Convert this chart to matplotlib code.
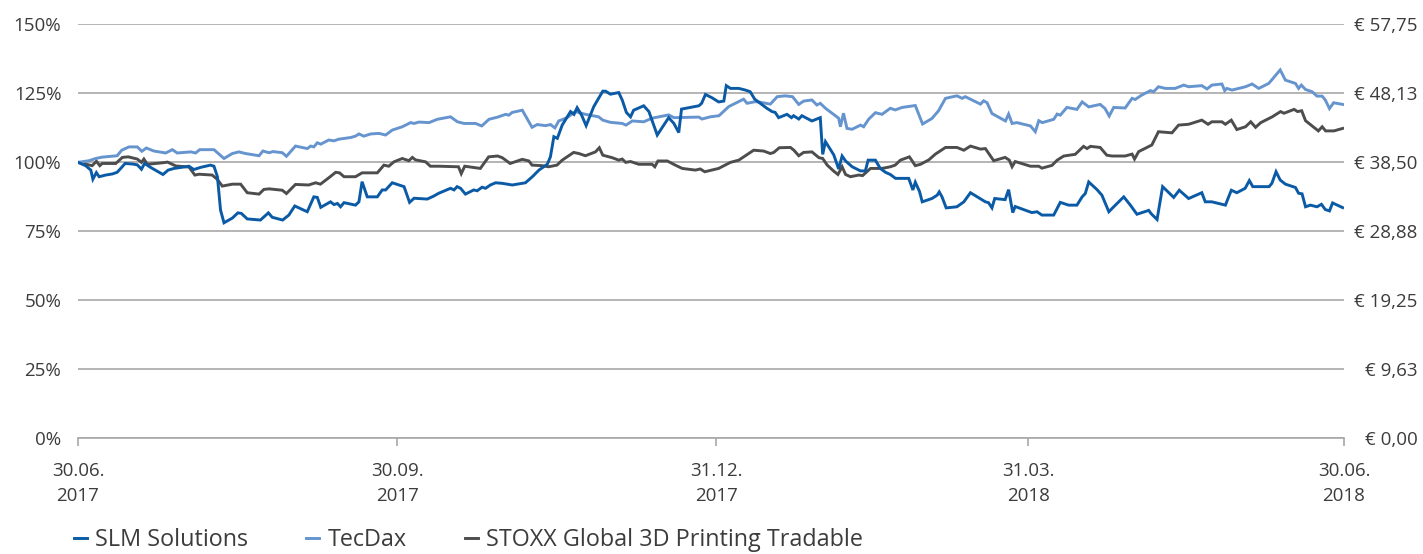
import pandas as pd
import matplotlib.pyplot as plt

plt.rcParams['font.family'] = ['Open Sans', 'DejaVu Sans']

start = pd.Timestamp('2017-06-30')
ende = pd.Timestamp('2018-06-30')

# Tage seit 30.06.2017 und indexierte Werte in %
slm_tage = [0, 2.2, 3.7, 4.3, 5.3, 6.1, 8, 9.9, 11.3, 13.6, 15.7, 17.1, 18.3, 19.2, 20.9, 24.5, 26.0, 27.7,
            32, 33.4, 35.4, 38.2, 39.2, 40.2, 41.1, 42.1, 44.5, 46.1, 47.1, 48.8, 52.6, 54.9, 56, 59,
            60.8, 62.5, 66.1, 68, 69, 70, 72.8, 73.8, 74.8, 75.7, 76.7, 80, 81, 81.9, 83.4, 86.3, 87.7,
            88.7, 90.6, 94, 95.6, 96.9, 100.7, 102.6, 104, 107.4, 108.4, 109.3, 110.3, 111.7, 114.1,
            115.1, 116.5, 117.5, 118.9, 120.4, 122.3, 125.2, 129, 131, 132.9, 135.3, 136.2, 137.2,
            138.2, 139.6, 142, 143, 143.9, 145.2, 146.5, 148.7, 151.3, 152.1, 153.5, 155.9, 156.9,
            158.1, 159.3, 160.2, 163.1, 164.6, 167, 170.3, 171.8, 173.2, 174, 179, 179.8, 180.9, 182.8,
            184.7, 186.2, 186.9, 188.1, 190.5, 192.4, 193.8, 195.1, 196.7, 198.6, 200.1, 201, 202,
            204.4, 205.7, 206.3, 207.8, 208.7, 211.6, 214, 214.7, 215.5, 217.9, 219.3, 220.3, 221.3,
            223.2, 225.6, 227, 227.8, 229.9, 231.3, 232.8, 234.2, 235.7, 239.5, 240.7, 241.4, 242.6,
            243.4, 246.2, 247.7, 248.3, 249.1, 250.3, 253.4, 255.4, 257.3, 261.6, 262.5, 263.5, 264.3,
            267.3, 268.3, 269.5, 270.2, 275, 276.5, 277.9, 281.3, 283.2, 285.6, 288, 289.5, 290.4,
            291.4, 293.8, 295.2, 297.2, 298.6, 301.5, 303.4, 305.3, 308.7, 309.4, 311.1, 312.7, 315.9,
            317.5, 320.2, 324, 325, 326.9, 330.8, 332.5, 334.1, 336.5, 337.7, 338.7, 343.4, 344.2,
            345.4, 346.6, 348.1, 351, 351.9, 352.9, 353.9, 355.3, 357.2, 358.5, 359.6, 360.8, 361.7,
            364.6]
slm_werte = [100, 98.8, 97.2, 93.9, 96.3, 94.8, 95.4, 95.8, 96.4, 99.6, 99.4, 99.1, 97.5, 99.6, 98.2, 95.6,
             97.2, 97.8, 98.6, 97.4, 98.2, 99, 98.6, 94.8, 82.7, 78.1, 79.8, 81.7, 81.5, 79.5, 79.1, 81.7,
             80.1, 79.1, 80.9, 84.2, 82.1, 87.5, 87.3, 83.7, 85.7, 84.7, 85.1, 83.9, 85.4, 84.5, 85.7, 93,
             87.5, 87.5, 90, 90, 92.6, 91.2, 85.5, 87, 86.7, 87.8, 88.8, 90.6, 90, 91.2, 90.6, 88.5, 90,
             89.7, 91, 90.6, 91.8, 92.6, 92.4, 91.8, 92.6, 94.8, 97.2, 99.3, 102, 109.3, 108.7, 113.5,
             118.4, 117.4, 119.8, 117.1, 113.3, 120.2, 125.8, 125.8, 124.7, 125.3, 122.6, 118.1, 116.5,
             118.9, 120.5, 118.4, 109.9, 116.2, 114.1, 110.8, 119.3, 120.5, 121.4, 124.6, 123.4, 121.9,
             122.2, 127.8, 126.8, 126.8, 126.2, 125.6, 122.9, 121.4, 119.6, 118.4, 118.1, 116.2, 117.4,
             116.2, 116.9, 115.7, 116.9, 115, 116.2, 102.9, 107.5, 102.7, 97.6, 102.3, 100.5, 98.4, 96.9,
             96.9, 100.8, 100.8, 97.8, 96.4, 95.6, 94.2, 94.2, 90, 92.8, 89.5, 85.7, 86.9, 88.1, 89.3,
             87.5, 83.5, 83.9, 85.7, 89, 85.7, 85.4, 83.5, 86.9, 86.5, 90.1, 81.8, 84, 81.8, 82.1, 80.9,
             80.9, 85.5, 84.5, 84.5, 87.5, 88.7, 92.9, 90.1, 88.1, 82.1, 83.9, 87.5, 84.5, 81.2, 82.6,
             81.4, 79.3, 91.2, 87.3, 89.9, 86.9, 89, 85.7, 85.7, 84.5, 89.9, 89, 90.6, 93.4, 91.2, 91.2,
             92.4, 96.6, 93.6, 92.1, 90.9, 88.8, 88.6, 83.9, 84.5, 83.9, 84.8, 82.9, 82.4, 85.3, 83.6]

tec_tage = [0, 3.2, 5.1, 7, 11.3, 12.6, 14.7, 17.1, 18.4, 19.7, 21.9, 25.3, 27.2, 28.6, 32.5, 33.9, 35.1,
            39.2, 42.1, 44.5, 46.4, 48.3, 52.2, 53.3, 55.1, 56.2, 58.9, 60.1, 62.7, 66.1, 67.1, 68, 69,
            70, 72.3, 73.8, 75.2, 78.6, 80, 81, 82.4, 84.4, 86.8, 88.7, 90.6, 93.5, 95.9, 96.9, 98.3,
            101.2, 103.6, 107.4, 109.4, 111.3, 114.6, 116.4, 118.5, 121, 123.3, 124.2, 125.2, 128.1,
            130.9, 132.4, 134.8, 136.2, 137.5, 138.6, 141, 143.4, 146.3, 150.1, 151.3, 153.5, 156.9,
            158, 159.8, 163.1, 165.5, 170.3, 171.8, 179, 179.9, 182.3, 184.8, 187.6, 191.9, 192.9,
            195.3, 196.7, 199.6, 201.6, 203.9, 206, 207.8, 209.2, 211.6, 213, 214, 215.5, 217.4, 219.3,
            219.8, 220.7, 221.7, 223.2, 225.6, 226.5, 228, 229.9, 231.8, 234.2, 235.6, 237.6, 241.4,
            243.5, 246.2, 248.1, 250.1, 253.4, 254.9, 255.8, 260.2, 261.1, 262.1, 263.5, 267.4, 268.3,
            269.3, 270.7, 274.6, 276, 277, 278, 281.3, 282.3, 283.2, 285.1, 288, 289.5, 291.4, 294.7,
            296.1, 297.3, 298.6, 301.9, 303.9, 304.8, 306.7, 309.2, 310.1, 311.5, 313.5, 316.3, 318.8,
            320.2, 324, 325.5, 326.9, 329.8, 330.6, 331.2, 332.7, 336.6, 338.5, 340.4, 343.3, 346.6,
            348.1, 351, 351.9, 352.7, 353.9, 355.8, 357.2, 358.7, 359.6, 360.8, 362, 364.6]
tec_werte = [100, 100.6, 101.4, 101.9, 102.4, 104.4, 105.6, 105.6, 104, 105.2, 104.1, 103.4, 104.6, 103.4,
             103.8, 103.4, 104.6, 104.6, 101.4, 103.2, 103.8, 103.2, 102.4, 104.1, 103.5, 103.9, 103.5,
             102.2, 105.9, 105, 105.9, 105.6, 107.1, 106.6, 108.1, 107.8, 108.4, 109, 109.5, 110.3,
             109.5, 110.3, 110.5, 109.9, 111.7, 112.9, 114.4, 114.1, 114.6, 114.4, 115.6, 116.5, 114.7,
             114.1, 114.1, 113.2, 115.6, 116.4, 117.4, 117.1, 118.1, 118.9, 112.7, 113.7, 113.3, 113.7,
             112.5, 115, 116.2, 118.4, 117.4, 116.5, 115.3, 114.5, 114.1, 113.5, 115, 114.7, 116, 117.2,
             116.2, 116.4, 115.7, 116.5, 116.9, 120.2, 122.9, 121.4, 122, 121.8, 121.1, 123.8, 124.1,
             123.8, 121, 122.2, 122.6, 120.8, 121.4, 119.6, 117.8, 116, 112.9, 117.8, 112.3, 112, 113.5,
             112.9, 115.7, 118, 117.4, 119.6, 119, 119.9, 120.6, 113.9, 115.9, 118.7, 123.2, 124.1,
             123.2, 123.8, 121.1, 122.3, 121.6, 117.7, 115, 117.5, 114.1, 114.4, 113.2, 111.1, 115.1,
             114.4, 115.6, 117.5, 117.1, 119.9, 119.2, 121.9, 120.1, 121, 119.5, 116.8, 119.9, 119.7,
             123.2, 122.8, 124.4, 126, 125.6, 127.4, 126.8, 126.8, 128, 127.4, 127.8, 126.6, 128, 128.4,
             126, 126.8, 126.2, 127.4, 128.4, 126.8, 128.6, 133.5, 129.8, 128.6, 126.8, 128, 126.4,
             125.6, 124, 124, 122.6, 119.5, 121.6, 121]

stoxx_tage = [0, 4.1, 5.3, 6.3, 7, 10.9, 12.8, 14.5, 17.1, 18.3, 19, 20, 24.8, 25.8, 28.2, 32, 33.7, 34.9,
              38.7, 40.2, 41.6, 44.5, 46.9, 48.8, 52.2, 53.6, 55.1, 58.9, 60.1, 62.7, 66.5, 68.5, 69.9,
              72.3, 74.3, 75.4, 76.7, 80, 81.9, 86.3, 88.2, 89.6, 91.1, 93.5, 95.4, 96.4, 97.3, 100.2,
              101.6, 104, 109.7, 110.5, 111.5, 116, 118.4, 121, 122.3, 124.6, 128.1, 130, 130.9, 133.8,
              135.7, 138.1, 139.6, 142.9, 144.4, 146.3, 149.2, 150.3, 151.3, 154, 155.9, 156.9, 157.9,
              159.3, 161.7, 165.5, 166.3, 167.2, 169.9, 172.2, 174.2, 178, 179.4, 180.7, 184.7, 188.1,
              190.5, 192.4, 194.8, 197.7, 199.6, 200.6, 202.2, 205.4, 206.4, 207.8, 209.2, 211.6, 213.6,
              214.7, 216, 217.9, 219.1, 220.3, 221.3, 222.7, 225.1, 226.2, 228.5, 231.8, 234.2, 235.6,
              237.1, 239.7, 241.4, 242.9, 245.3, 247.2, 250.1, 253.4, 255.4, 257.3, 260.2, 261.6, 264,
              267.3, 268.5, 269.3, 270.2, 274.6, 277, 277.9, 280.8, 282.3, 284.2, 287.5, 289.9, 290.9,
              291.9, 294.7, 296.6, 298.1, 301.9, 303.9, 304.6, 305.8, 309.6, 311.5, 315.4, 317.3, 320.2,
              324, 325.8, 326.9, 329.8, 330.8, 332.5, 334.1, 336.6, 338.1, 339.5, 341, 344.3, 346.7,
              347.7, 350.6, 351.6, 352.8, 353.9, 355.9, 357.6, 358.7, 359.7, 362.1, 364.6]
stoxx_werte = [100, 98.8, 100.4, 98.8, 99.6, 99.6, 101.8, 102, 101.2, 100, 101.2, 99.3, 99.9, 100.1, 98.7,
               98.3, 95.4, 95.7, 95.4, 93.8, 91.4, 92.1, 92.1, 89, 88.5, 90.2, 90.4, 89.9, 88.7, 92, 91.8,
               92.6, 92.1, 94.4, 96.4, 96.2, 94.8, 94.8, 96.2, 96.2, 99, 98.6, 100.2, 101.4, 100.6, 101.8,
               100.9, 100.2, 98.6, 98.6, 98.4, 95.9, 98.6, 97.8, 102, 102.3, 101.7, 99.6, 101.1, 100.5, 99,
               98.8, 98.4, 99, 100.8, 103.6, 103.2, 102.4, 103.8, 105.3, 102.6, 101.7, 100.8, 101.2, 100,
               100.3, 99.3, 99.3, 98.4, 100.5, 100.5, 99, 97.8, 97.2, 97.6, 96.6, 97.8, 100, 100.8, 102.4,
               104.4, 104.1, 103.2, 103.6, 105.3, 105.4, 104.4, 102.4, 103.6, 103.8, 101.7, 101.4, 99,
               96.8, 95.6, 98.4, 95.6, 94.8, 95.4, 95.2, 97.8, 97.8, 98.4, 99, 100.8, 102, 98.8, 99.3,
               100.9, 103, 105.4, 105.4, 104.4, 105.9, 104.8, 105, 100.6, 101.8, 100.8, 98.4, 100.3, 98.6,
               98.6, 97.9, 98.9, 100.8, 102.3, 102.9, 105.8, 105, 105.8, 105.4, 102.6, 102.3, 102.3, 103,
               101.2, 103.9, 106.3, 111.1, 110.7, 113.5, 113.8, 115.3, 113.8, 114.7, 114.7, 113.8, 115.3,
               111.9, 112.9, 114.7, 112.7, 114.4, 116.5, 118.4, 117.8, 119.2, 118.4, 118.7, 115.1, 113.1,
               111.4, 112.9, 111.4, 111.4, 112.3]

datum_ticks = ['2017-06-30', '2017-09-30', '2017-12-31', '2018-03-31', '2018-06-30']
datum_labels = ['30.06.\n2017', '30.09.\n2017', '31.12.\n2017', '31.03.\n2018', '30.06.\n2018']
prozent_ticks = [0, 25, 50, 75, 100, 125, 150]
prozent_labels = ['0%', '25%', '50%', '75%', '100%', '125%', '150%']
euro_labels = ['€ 0,00', '€ 9,63', '€ 19,25', '€ 28,88', '€ 38,50', '€ 48,13', '€ 57,75']
euro_max = 57.75

reihen = [('STOXX Global 3D Printing Tradable', stoxx_tage, stoxx_werte, '#4d4d4d'),
          ('TecDax', tec_tage, tec_werte, '#6694cf'),
          ('SLM Solutions', slm_tage, slm_werte, '#0a5aa6')]

textfarbe = '#3c3c3c'
gitter = '#a8a8a8'

fig = plt.figure(figsize=(14.23, 5.54), dpi=100)
ax = fig.add_axes([0.0548, 0.2088, 0.8897, 0.7472])

linien = {}
for name, tage, werte, farbe in reihen:
    x = start + pd.to_timedelta(tage, unit='D')
    l, = ax.plot(x, werte, color=farbe, lw=2.1, label=name, solid_joinstyle='miter')
    linien[name] = l

ax.set_xlim(start, ende)
ax.set_ylim(0, 150)
ax.set_yticks(prozent_ticks)
ax.set_yticklabels(prozent_labels)
ax.set_xticks(pd.to_datetime(datum_ticks))
ax.set_xticklabels(datum_labels, linespacing=1.5)
ax.yaxis.grid(True, color=gitter, lw=1.2)
ax.set_axisbelow(True)
for s in ['top', 'left', 'right']:
    ax.spines[s].set_visible(False)
ax.spines['bottom'].set_color(gitter)
ax.spines['bottom'].set_linewidth(1.2)
ax.tick_params(axis='y', length=0, pad=12, labelsize=13.5, labelcolor=textfarbe)
ax.tick_params(axis='x', length=6, width=1.2, color=gitter, pad=11, labelsize=13.5, labelcolor=textfarbe)

ax2 = ax.twinx()
ax2.set_ylim(0, euro_max)
ax2.set_yticks([euro_max * p / 150 for p in prozent_ticks])
ax2.set_yticklabels(euro_labels)
for s in ax2.spines.values():
    s.set_visible(False)
ax2.tick_params(axis='y', length=0, pad=53, labelsize=13.5, labelcolor=textfarbe)
for t in ax2.get_yticklabels():
    t.set_horizontalalignment('right')

namen = ['SLM Solutions', 'TecDax', 'STOXX Global 3D Printing Tradable']
fig.legend([linien[n] for n in namen], namen, loc='center left', bbox_to_anchor=(0.052, 0.025),
           ncol=3, frameon=False, fontsize=16.8, handlelength=0.55, handletextpad=0.35,
           columnspacing=2.5, borderpad=0, borderaxespad=0, labelcolor=textfarbe)

fig.savefig('out.png', dpi=100)
